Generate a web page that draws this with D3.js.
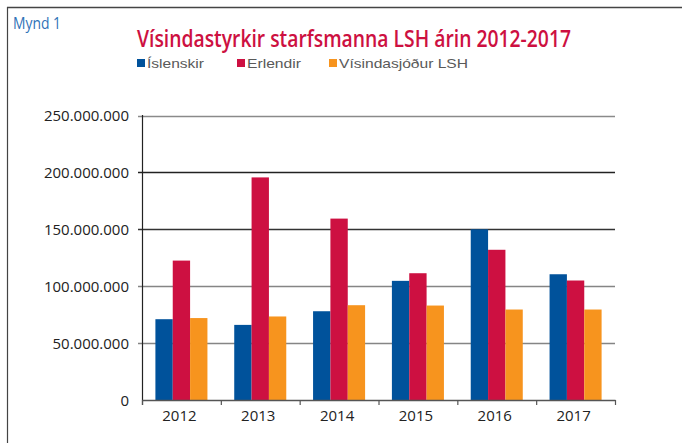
<!DOCTYPE html>
<html>
<head>
<meta charset="utf-8">
<script src="https://cdn.jsdelivr.net/npm/d3@7"></script>
<style>
  html, body { margin: 0; padding: 0; background: #fff; }
  svg { display: block; }
</style>
</head>
<body>
<svg id="chart" width="682" height="443"></svg>
<script>
const years = ["2012", "2013", "2014", "2015", "2016", "2017"];
const seriesNames = ["Íslenskir", "Erlendir", "Vísindasjóður LSH"];
const islenskir = [71000000, 66000000, 78000000, 104700000, 150000000, 110500000];
const erlendir = [122500000, 195600000, 159400000, 111400000, 132000000, 105000000];
const visindasjodur = [72000000, 73400000, 83300000, 83000000, 79500000, 79500000];
const yTicks = [0, 50000000, 100000000, 150000000, 200000000, 250000000];
const yTickLabels = ["0", "50.000.000", "100.000.000", "150.000.000", "200.000.000", "250.000.000"];

const colors = ["#00529b", "#cd1041", "#f7941e"];
const gridColors = ["#555", "#858585", "#858585", "#333", "#222", "#8a8a8a"];

const svg = d3.select("#chart");
const values = [islenskir, erlendir, visindasjodur];
const data = years.map((y, i) => ({ year: y, vals: values.map(v => v[i]) }));

// frame
svg.append("line").attr("x1", 7.5).attr("x2", 7.5).attr("y1", 7).attr("y2", 443).attr("stroke", "#444").attr("stroke-width", 1.2);
svg.append("line").attr("x1", 7).attr("x2", 682).attr("y1", 7.5).attr("y2", 7.5).attr("stroke", "#444").attr("stroke-width", 1.5);

// Mynd 1
svg.append("text").attr("x", 13).attr("y", 29).text("Mynd 1")
  .attr("font-family", "'Liberation Sans Narrow', 'Open Sans', sans-serif")
  .attr("font-size", 17).attr("fill", "#2f73b8")
  .attr("textLength", 48).attr("lengthAdjust", "spacingAndGlyphs");

// title
svg.append("text").attr("x", 137).attr("y", 47).text("Vísindastyrkir starfsmanna LSH árin 2012-2017")
  .attr("font-family", "'Liberation Sans Narrow', 'Open Sans', sans-serif")
  .attr("font-size", 24).attr("font-weight", 600).attr("fill", "#cd1041")
  .attr("textLength", 434).attr("lengthAdjust", "spacingAndGlyphs");

// legend
const legendX = [137, 237, 329];
const legendW = [57, 54, 129];
seriesNames.forEach((n, i) => {
  svg.append("rect").attr("x", legendX[i]).attr("y", 59).attr("width", 8).attr("height", 8).attr("fill", colors[i]);
  svg.append("text").attr("x", legendX[i] + 10).attr("y", 68).text(n)
    .attr("font-family", "'Liberation Sans', Arial, sans-serif")
    .attr("font-size", 13).attr("fill", "#595959")
    .attr("textLength", legendW[i]).attr("lengthAdjust", "spacingAndGlyphs");
});

const x0 = d3.scaleBand().domain(years).range([142, 615]).paddingInner(0.34).paddingOuter(0.17);
const x1 = d3.scaleBand().domain(d3.range(3)).range([0, x0.bandwidth()]);
const y = d3.scaleLinear().domain([0, 250000000]).range([400, 115.5]);

// gridlines
const g = svg.append("g");
yTicks.forEach((t, i) => {
  if (i === 0) return;
  g.append("line").attr("x1", 138).attr("x2", 615)
    .attr("y1", Math.round(y(t)) + 0.5).attr("y2", Math.round(y(t)) + 0.5)
    .attr("stroke", gridColors[i]).attr("stroke-width", 1.3);
});

// y labels
yTicks.forEach((t, i) => {
  svg.append("text").attr("x", 129).attr("y", y(t) + 5.5).attr("text-anchor", "end")
    .text(yTickLabels[i])
    .attr("font-family", "'Open Sans', 'Liberation Sans', sans-serif")
    .attr("font-size", 15).attr("fill", "#222");
});

// bars
const groups = svg.append("g").selectAll("g").data(data).join("g")
  .attr("transform", d => `translate(${x0(d.year)},0)`);
groups.selectAll("rect").data(d => d.vals.map((v, i) => ({ v, i }))).join("rect")
  .attr("x", d => x1(d.i))
  .attr("width", x1.bandwidth())
  .attr("y", d => y(d.v))
  .attr("height", d => y(0) - y(d.v))
  .attr("fill", d => colors[d.i]);

// axes
svg.append("line").attr("x1", 142.5).attr("x2", 142.5).attr("y1", 115).attr("y2", 405).attr("stroke", "#222").attr("stroke-width", 1.2);
svg.append("line").attr("x1", 142).attr("x2", 615.5).attr("y1", 400.5).attr("y2", 400.5).attr("stroke", "#555").attr("stroke-width", 1.5);
d3.range(years.length + 1).forEach(i => {
  const xx = 142 + i * (473 / years.length);
  svg.append("line").attr("x1", xx + 0.5).attr("x2", xx + 0.5).attr("y1", 400).attr("y2", 405).attr("stroke", "#555").attr("stroke-width", 1.2);
});

// x labels
years.forEach(yr => {
  svg.append("text").attr("x", x0(yr) + x0.bandwidth() / 2 - 2).attr("y", 421)
    .attr("text-anchor", "middle").text(yr)
    .attr("font-family", "'Open Sans', 'Liberation Sans', sans-serif")
    .attr("font-size", 15).attr("fill", "#222");
});
</script>
</body>
</html>
